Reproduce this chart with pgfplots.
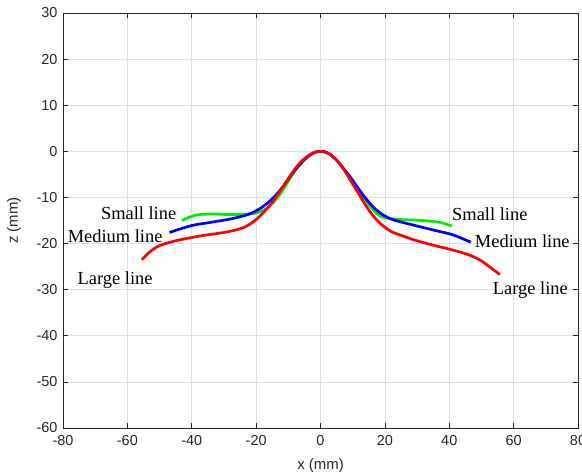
\documentclass[border=0pt]{standalone}
\usepackage{fontspec}
\setmainfont{Liberation Serif}
\newfontfamily\arialfont{Liberation Sans}
\usepackage{pgfplots}
\pgfplotsset{compat=1.18}
\definecolor{axgray}{RGB}{38,38,38}
\definecolor{gridgray}{RGB}{223,223,223}
\definecolor{mgreen}{RGB}{0,238,0}

\begin{document}
\begin{tikzpicture}[x=1bp,y=1bp]
  \begin{axis}[
      at={(0,0)}, anchor=south west,
      scale only axis,
      width=515bp, height=415bp,
      xmin=-80, xmax=80, ymin=-60, ymax=30,
      xtick={-80,-60,...,80},
      ytick={-60,-50,...,30},
      grid=major,
      major grid style={gridgray, line width=0.6bp},
      axis line style={axgray, line width=0.6bp},
      tick style={axgray, line width=0.6bp},
      major tick length=5bp,
      tick align=inside,
      /pgf/number format/assume math mode=true,
      ticklabel style={font=\arialfont\fontsize{14.5}{16}\selectfont, text=axgray},
      xticklabel style={yshift=-4bp},
      yticklabel style={xshift=-2bp},
      label style={font=\arialfont\fontsize{15}{17}\selectfont, text=axgray},
      xlabel={x (mm)},
      ylabel={z (mm)},
      xlabel style={at={([yshift=-38bp]axis description cs:0.5,0)}, anchor=center},
      ylabel style={at={([xshift=-49bp]axis description cs:0,0.5)}, anchor=center},
      clip=false,
    ]
    % Small line
    \addplot[mgreen, line width=2.7bp, smooth, tension=0.6] coordinates {
      (-43.1,-15.0) (-40,-14.1) (-37.4,-13.7) (-33,-13.6) (-29,-13.7) (-25,-13.7)
      (-20.8,-13.5) (-18.5,-13.0) (-16.6,-12.4) (-14.5,-11.0) (-12.5,-9.2)
      (-10,-6.5) (-8,-4.3) (-6,-2.6) (-4,-1.2) (-2,-0.3) (0,0) (2,-0.3)
      (4,-1.2) (6,-2.7) (8,-4.6) (10,-6.6) (12.3,-8.9) (14.5,-11.0)
      (16.5,-12.8) (18.7,-14.1) (21,-14.5) (24.9,-14.8) (29,-14.9)
      (33.2,-15.1) (37,-15.4) (40.8,-16.2)
    };
    % Medium line
    \addplot[blue, line width=2.7bp, smooth, tension=0.6] coordinates {
      (-46.9,-17.6) (-43,-16.7) (-39.4,-16.0) (-35,-15.5) (-29,-14.8)
      (-25,-14.2) (-21.8,-13.5) (-19,-12.5) (-16.6,-11.3) (-14,-9.6)
      (-11.4,-7.4) (-9,-5.0) (-7,-3.3) (-5,-1.8) (-3,-0.7) (-1.5,-0.15)
      (0,0) (1.5,-0.15) (3,-0.7) (5,-1.9) (7,-3.6) (9.3,-5.6) (12,-8.3)
      (14.5,-10.6) (17,-12.5) (19.7,-13.9) (22,-14.7) (24.9,-15.3)
      (30,-16.2) (35.3,-17.1) (39,-17.7) (41.5,-18.2) (44,-18.9) (46.7,-19.7)
    };
    % Large line
    \addplot[red, line width=2.7bp, smooth, tension=0.6] coordinates {
      (-55.5,-23.5) (-53.5,-22.1) (-51.5,-21.0) (-49,-20.2) (-45,-19.4)
      (-39.4,-18.6) (-35,-18.1) (-30,-17.6) (-26,-17.0) (-23.5,-16.4)
      (-21.5,-15.6) (-19.5,-14.5) (-17.5,-13.1) (-15.5,-11.5) (-13.5,-9.6)
      (-11.5,-7.5) (-9.5,-5.4) (-7.5,-3.4) (-5.5,-1.9) (-3.5,-0.8)
      (-1.8,-0.2) (0,0) (1.8,-0.2) (3.5,-0.9) (5.5,-2.3) (7.5,-4.2)
      (9.3,-6.3) (11.5,-8.8) (13.5,-11.1) (15.5,-13.2) (17.5,-14.9)
      (19.7,-16.3) (22,-17.4) (24.9,-18.2) (30,-19.4) (35.3,-20.4)
      (40.5,-21.3) (45,-22.2) (48,-23.0) (50.5,-24.0) (53,-25.3) (55.7,-26.7)
    };
    \begin{scope}[every node/.style={font=\fontsize{18.5}{20}\selectfont, text=black, inner sep=0pt}]
      \node at (axis cs:-56.5,-13.5) {Small line};
      \node at (axis cs:-63.8,-18.5) {Medium line};
      \node at (axis cs:-63.8,-27.9) {Large line};
      \node at (axis cs:52.6,-13.6) {Small line};
      \node at (axis cs:62.7,-19.4) {Medium line};
      \node at (axis cs:65.2,-30.0) {Large line};
    \end{scope}
  \end{axis}
  \pgfresetboundingbox
  \path[use as bounding box] (-63bp,-48bp) rectangle (519bp,428bp);
\end{tikzpicture}
\end{document}
